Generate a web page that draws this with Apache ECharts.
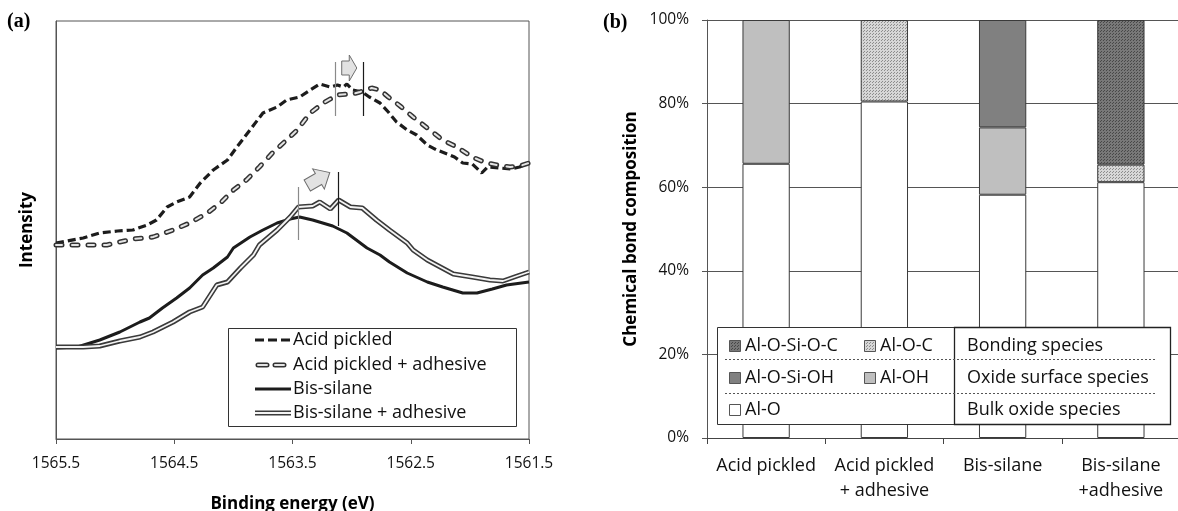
<!DOCTYPE html>
<html>
<head>
<meta charset="utf-8">
<script src="https://cdn.jsdelivr.net/npm/echarts@6/dist/echarts.min.js"></script>
<style>
html,body{margin:0;padding:0;background:#fff;}
#c{width:1178px;height:511px;}
</style>
</head>
<body>
<div id="c"></div>
<script>
// ---------- Panel (a): XPS Al 1s spectra (binding energy eV, intensity a.u.) ----------
const xTicksA = [1565.5, 1564.5, 1563.5, 1562.5, 1561.5];

const apEV = [1565.50,1565.27,1565.13,1564.98,1564.85,1564.73,1564.65,1564.56,1564.48,1564.37,1564.28,1564.17,1564.05,1563.97,1563.86,1563.75,1563.63,1563.55,1563.44,1563.35,1563.27,1563.18,1563.12,1563.07,1563.04,1562.99,1562.91,1562.85,1562.76,1562.69,1562.62,1562.53,1562.45,1562.36,1562.28,1562.19,1562.13,1562.06,1561.98,1561.90,1561.85,1561.75,1561.65,1561.58,1561.50];
const apI  = [196,201,206,208,209,214,219,232,237,242,256,269,279,292,309,326,332,339,342,349,355,352,354,352,355,349,347,342,336,327,317,309,304,294,289,285,282,276,275,266,272,271,270,272,276];

const apaEV = [1565.50,1565.27,1565.07,1564.85,1564.68,1564.51,1564.37,1564.22,1564.11,1564.00,1563.89,1563.78,1563.67,1563.55,1563.46,1563.35,1563.24,1563.12,1563.04,1562.99,1562.93,1562.83,1562.76,1562.69,1562.59,1562.48,1562.36,1562.23,1562.11,1561.98,1561.86,1561.77,1561.66,1561.58,1561.50];
const apaI  = [194,194,194,200,202,209,216,226,236,249,259,272,286,299,309,326,336,344,345,345,347,351,349,342,333,322,311,299,292,282,276,274,272,273,276];

const bsEV = [1565.50,1565.32,1565.13,1564.96,1564.79,1564.71,1564.60,1564.48,1564.37,1564.26,1564.17,1564.05,1564.00,1563.86,1563.75,1563.63,1563.52,1563.44,1563.33,1563.16,1563.04,1562.87,1562.76,1562.68,1562.53,1562.36,1562.23,1562.06,1561.94,1561.81,1561.69,1561.50];
const bsI  = [91,92,99,107,117,121,131,141,151,164,171,182,191,202,209,216,220,222,219,213,206,191,184,177,166,157,152,146,146,150,154,157];

const bsaEV = [1565.50,1565.27,1565.13,1564.96,1564.79,1564.68,1564.51,1564.37,1564.26,1564.14,1564.05,1563.94,1563.83,1563.78,1563.63,1563.52,1563.45,1563.33,1563.27,1563.18,1563.11,1563.01,1562.91,1562.79,1562.68,1562.53,1562.48,1562.36,1562.25,1562.14,1561.98,1561.83,1561.72,1561.60,1561.50];
const bsaI  = [92,92,93,98,102,107,117,127,132,154,157,171,184,194,209,222,232,233,237,230,239,232,231,219,209,196,189,179,172,165,162,159,158,163,167];

// peak-position markers (eV, low intensity, high intensity)
const peakMarks = [
  [1563.14, 323, 377, '#8a8a8a'],
  [1562.90, 323, 377, '#1a1a1a'],
  [1563.45, 199, 252, '#8a8a8a'],
  [1563.11, 213, 267, '#1a1a1a']
];
// shift arrows anchored in data space (eV, intensity, angle deg, scale)
const shiftArrows = [
  [1563.02, 371, 0, 0.58],
  [1563.28, 260, 30, 1.0]
];

// ---------- Panel (b): chemical bond composition (%) ----------
const categories = ['Acid pickled', 'Acid pickled\n+ adhesive', 'Bis-silane', 'Bis-silane\n+adhesive'];
const alO     = [65.6, 80.5, 58.2, 61.2];
const alOH    = [34.4, null, 16.1, null];
const alOC    = [null, 19.5, null, 4.2];
const alOSiOH = [null, null, 25.7, null];
const alOSiOC = [null, null, null, 34.6];

function zip(a, b) { return a.map((v, i) => [v, b[i]]); }
function dotPattern(bg, dot) {
  const c = document.createElement('canvas');
  c.width = 3; c.height = 3;
  const g = c.getContext('2d');
  g.fillStyle = bg; g.fillRect(0, 0, 3, 3);
  g.fillStyle = dot; g.fillRect(0, 0, 1, 1); g.fillRect(2, 1, 1, 1);
  return c;
}
const patOC   = { image: dotPattern('#d6d6d6', '#8c8c8c'), repeat: 'repeat' };
const patOSiOC = { image: dotPattern('#787878', '#484848'), repeat: 'repeat' };

const FONT = 'Open Sans';
const chart = echarts.init(document.getElementById('c'), null, { renderer: 'canvas' });

const barBorder = { borderColor: '#3a3a3a', borderWidth: 1 };
function barSeries(name, data, color) {
  return {
    name, type: 'bar', stack: 'comp', xAxisIndex: 1, yAxisIndex: 1,
    barWidth: '40%', data,
    itemStyle: Object.assign({ color }, barBorder),
    emphasis: { disabled: true }
  };
}
function lineSeries(name, data, ls) {
  return {
    name, type: 'line', xAxisIndex: 0, yAxisIndex: 0, data,
    showSymbol: false, symbol: 'none', smooth: false,
    lineStyle: ls, emphasis: { disabled: true }, silent: true
  };
}

const apData = zip(apEV, apI), apaData = zip(apaEV, apaI), bsData = zip(bsEV, bsI), bsaData = zip(bsaEV, bsaI);

const markSeries = {
  name: 'marks', type: 'line', xAxisIndex: 0, yAxisIndex: 0, data: [], silent: true,
  markLine: {
    symbol: ['none', 'none'], silent: true, animation: false,
    label: { show: false },
    data: peakMarks.map(m => [
      { coord: [m[0], m[1]], lineStyle: { color: m[3], width: 1.2, type: 'solid' } },
      { coord: [m[0], m[2]] }
    ])
  }
};

const option = {
  animation: false,
  backgroundColor: '#fff',
  textStyle: { fontFamily: FONT },
  grid: [
    { left: 56, right: 1178 - 529, top: 21, bottom: 511 - 439, containLabel: false, outerBoundsMode: 'none', show: true, borderColor: '#555', borderWidth: 1, backgroundColor: 'transparent' },
    { left: 707, right: -2, top: 20, bottom: 511 - 438, containLabel: false, outerBoundsMode: 'none' }
  ],
  xAxis: [
    {
      type: 'value', gridIndex: 0, inverse: true, min: 1561.5, max: 1565.5, interval: 1,
      axisLine: { show: true, lineStyle: { color: '#555', width: 1 } },
      axisTick: { show: true, inside: false, length: 5, lineStyle: { color: '#555' } },
      axisLabel: { margin: 17, fontSize: 15.5, color: '#111', fontFamily: FONT, formatter: v => v.toFixed(1), showMinLabel: true, showMaxLabel: true },
      splitLine: { show: false },
      name: 'Binding energy (eV)', nameLocation: 'middle', nameGap: 57, nameMoveOverlap: false,
      nameTextStyle: { fontSize: 17, fontWeight: 'bold', color: '#000', fontFamily: FONT }
    },
    {
      type: 'category', gridIndex: 1, data: categories, boundaryGap: true,
      axisLine: { show: true, lineStyle: { color: '#444', width: 1 } },
      axisTick: { show: true, inside: false, length: 6, alignWithLabel: false, lineStyle: { color: '#444' } },
      axisLabel: { margin: 15, fontSize: 18, lineHeight: 25, color: '#111', fontFamily: FONT, interval: 0 },
      splitLine: { show: false }
    }
  ],
  yAxis: [
    {
      type: 'value', gridIndex: 0, min: 0, max: 418,
      axisLine: { show: true, lineStyle: { color: '#555', width: 1 } },
      axisTick: { show: false }, axisLabel: { show: false }, splitLine: { show: false },
      name: 'Intensity', nameLocation: 'middle', nameGap: 20, nameRotate: 90, nameMoveOverlap: false,
      nameTextStyle: { fontSize: 17, fontWeight: 'bold', color: '#000', fontFamily: FONT }
    },
    {
      type: 'value', gridIndex: 1, min: 0, max: 100, interval: 20,
      axisLine: { show: true, lineStyle: { color: '#555', width: 1 } },
      axisTick: { show: true, inside: false, length: 5, lineStyle: { color: '#555' } },
      axisLabel: { margin: 18, fontSize: 15.5, color: '#111', fontFamily: FONT, formatter: '{value}%' },
      splitLine: { show: true, lineStyle: { color: '#555', width: 1 } },
      name: 'Chemical bond composition', nameLocation: 'middle', nameGap: 67, nameRotate: 90, nameMoveOverlap: false,
      nameTextStyle: { fontSize: 17, fontWeight: 'bold', color: '#000', fontFamily: FONT }
    }
  ],
  series: [
    lineSeries('Acid pickled', apData, { color: '#1c1c1c', width: 3.2, type: [8, 4], cap: 'butt' }),
    lineSeries('Acid pickled + adhesive', apaData, { color: '#333', width: 5, type: [6, 10], cap: 'round' }),
    lineSeries('Acid pickled + adhesive (inner)', apaData, { color: '#e4e4e4', width: 2, type: [6, 10], cap: 'round' }),
    lineSeries('Bis-silane', bsData, { color: '#1c1c1c', width: 3, type: 'solid' }),
    lineSeries('Bis-silane + adhesive', bsaData, { color: '#3a3a3a', width: 5, type: 'solid' }),
    lineSeries('Bis-silane + adhesive (inner)', bsaData, { color: '#f4f4f4', width: 1.8, type: 'solid' }),
    markSeries,
    barSeries('Al-O', alO, '#ffffff'),
    barSeries('Al-OH', alOH, '#bfbfbf'),
    barSeries('Al-O-C', alOC, patOC),
    barSeries('Al-O-Si-OH', alOSiOH, '#808080'),
    barSeries('Al-O-Si-O-C', alOSiOC, patOSiOC)
  ]
};
chart.setOption(option);

// ---------- annotations, legends and panel letters ----------
const g = [];
const txt = (x, y, s, extra) => ({
  type: 'text', x, y, z: 110,
  style: Object.assign({ text: s, fontFamily: FONT, fontSize: 18, fill: '#111', verticalAlign: 'middle', align: 'left' }, extra || {})
});
g.push(txt(7, 22, '(a)', { fontFamily: 'Liberation Serif', fontWeight: 'bold', fontSize: 20, fill: '#000' }));
g.push(txt(603, 23, '(b)', { fontFamily: 'Liberation Serif', fontWeight: 'bold', fontSize: 20, fill: '#000' }));

// arrows
shiftArrows.forEach(a => {
  const p = chart.convertToPixel({ xAxisIndex: 0, yAxisIndex: 0 }, [a[0], a[1]]);
  const s = a[3];
  const pts = [[-13, -7], [0, -7], [0, -13], [13, 0], [0, 13], [0, 7], [-13, 7]].map(q => [q[0] * s, q[1] * (a[2] === 0 ? 1 : 0.9)]);
  g.push({
    type: 'polygon', x: p[0], y: p[1], rotation: a[2] * Math.PI / 180, z: 105,
    shape: { points: pts },
    style: { fill: '#e2e2e2', stroke: '#6e6e6e', lineWidth: 1 }
  });
});

// legend (a)
g.push({ type: 'rect', z: 100, shape: { x: 228.5, y: 328.5, width: 288, height: 98 }, style: { fill: '#fff', stroke: '#333', lineWidth: 1 } });
const lgA = [
  ['Acid pickled', 340], ['Acid pickled + adhesive', 365], ['Bis-silane', 389], ['Bis-silane + adhesive', 413]
];
const lx1 = 255, lx2 = 291;
g.push({ type: 'line', z: 105, shape: { x1: lx1, y1: 340, x2: lx2, y2: 340 }, style: { stroke: '#1c1c1c', lineWidth: 3, lineDash: [9, 4] } });
g.push({ type: 'line', z: 105, shape: { x1: lx1 + 3, y1: 365, x2: lx2 - 2, y2: 365 }, style: { stroke: '#333', lineWidth: 5, lineDash: [9, 8], lineCap: 'round' } });
g.push({ type: 'line', z: 106, shape: { x1: lx1 + 3, y1: 365, x2: lx2 - 2, y2: 365 }, style: { stroke: '#e4e4e4', lineWidth: 2, lineDash: [9, 8], lineCap: 'round' } });
g.push({ type: 'line', z: 105, shape: { x1: lx1, y1: 389, x2: lx2, y2: 389 }, style: { stroke: '#1c1c1c', lineWidth: 3 } });
g.push({ type: 'line', z: 105, shape: { x1: lx1, y1: 413, x2: lx2, y2: 413 }, style: { stroke: '#3a3a3a', lineWidth: 5 } });
g.push({ type: 'line', z: 106, shape: { x1: lx1, y1: 413, x2: lx2, y2: 413 }, style: { stroke: '#f4f4f4', lineWidth: 1.8 } });
lgA.forEach(r => g.push(txt(293, r[1], r[0])));

// legend (b)
g.push({ type: 'rect', z: 100, shape: { x: 717.5, y: 327.5, width: 237, height: 97 }, style: { fill: '#fff', stroke: '#333', lineWidth: 1 } });
g.push({ type: 'rect', z: 101, shape: { x: 954.5, y: 327.5, width: 216, height: 97 }, style: { fill: '#fff', stroke: '#222', lineWidth: 1.3 } });
[359.5, 393.5].forEach(y => g.push({ type: 'line', z: 106, shape: { x1: 725, y1: y, x2: 1157, y2: y }, style: { stroke: '#555', lineWidth: 1, lineDash: [2, 2] } }));
const sw = (x, y, fill) => ({ type: 'rect', z: 106, shape: { x: x + 0.5, y: y - 5.5, width: 11, height: 11 }, style: { fill, stroke: '#555', lineWidth: 1 } });
const lgB = [
  [729, 346, patOSiOC, 'Al-O-Si-O-C'], [864, 346, patOC, 'Al-O-C'],
  [729, 378, '#808080', 'Al-O-Si-OH'], [864, 378, '#bfbfbf', 'Al-OH'],
  [729, 410, '#ffffff', 'Al-O']
];
lgB.forEach(r => { g.push(sw(r[0], r[1], r[2])); g.push(txt(r[0] + 16, r[1], r[3])); });
[['Bonding species', 346], ['Oxide surface species', 378], ['Bulk oxide species', 410]].forEach(r => g.push(txt(967, r[1], r[0])));

chart.setOption({ graphic: { elements: g } });
</script>
</body>
</html>
